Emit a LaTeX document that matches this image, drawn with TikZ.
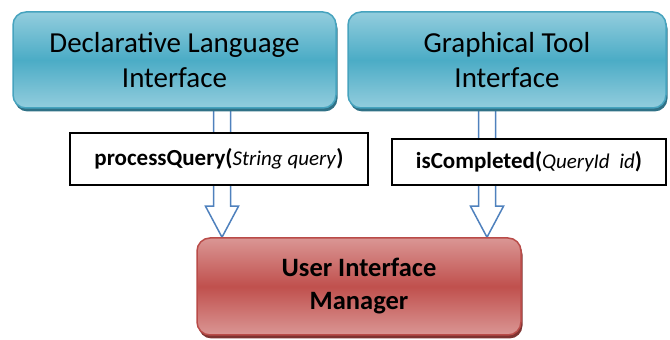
\documentclass[tikz,border=0pt]{standalone}
\usepackage{fontspec}
\setmainfont{Carlito}
\usetikzlibrary{shadows,backgrounds,calc}

\definecolor{blueTop}{HTML}{93CDDD}
\definecolor{blueMid}{HTML}{4BACC6}
\definecolor{blueLine}{HTML}{46A3BE}
\definecolor{blueShade}{HTML}{2F7186}
\definecolor{redTop}{HTML}{DA9694}
\definecolor{redMid}{HTML}{C0504D}
\definecolor{redLine}{HTML}{B94B48}
\definecolor{redShade}{HTML}{7E3331}
\definecolor{arrowLine}{HTML}{4F81BD}

\tikzset{
  ifacebox/.style={draw=blueLine, line width=1.5pt, rounded corners=13pt,
    top color=blueTop, bottom color=blueTop, middle color=blueMid,
    drop shadow={shadow xshift=1.5pt, shadow yshift=-3.5pt, fill=blueShade, opacity=1},
    minimum width=#1, minimum height=96pt, align=center,
    font=\fontsize{29}{35}\selectfont},
  mgrbox/.style={draw=redLine, line width=1.5pt, rounded corners=13pt,
    top color=redTop, bottom color=redTop, middle color=redMid,
    drop shadow={shadow xshift=1.5pt, shadow yshift=-3.5pt, fill=redShade, opacity=1},
    minimum width=324pt, minimum height=97pt, align=center,
    font=\fontsize{26.5}{33}\selectfont\bfseries},
  callbox/.style={draw=black, line width=1.2pt, fill=white, inner sep=0pt,
    minimum width=#1, font=\fontsize{23}{26}\selectfont},
  blockarrow/.style={draw=arrowLine, line width=1.5pt, fill=white, line join=miter},
}

% hollow block arrow: shaft from the bottom of #1 down to its tip on the top of #2, at the x of #3
\newcommand{\hollowarrow}[3]{%
  \path let \p1=(#1.south -| #3), \p2=(#2.north -| #3) in
    [blockarrow] (\x1-8.5pt,\y1) -- (\x1-8.5pt,\y2+31pt) -- (\x1-16.5pt,\y2+31pt)
    -- (\x1,\y2) -- (\x1+16.5pt,\y2+31pt) -- (\x1+8.5pt,\y2+31pt) -- (\x1+8.5pt,\y1);%
}
% italic argument list inside a call label
\newcommand{\argt}[1]{{\fontsize{21}{26}\selectfont\itshape #1}}

\begin{document}
\begin{tikzpicture}[x=1pt,y=1pt]
  \useasboundingbox (0,0) rectangle (670,340);

  \node[ifacebox=323pt] (decl) at (174.5,280) {Declarative Language\\Interface};
  \node[ifacebox=318pt] (gti) at (507,280) {Graphical Tool\\Interface};
  \node[mgrbox] (uim) at (359,53.5) {User Interface\\Manager};

  \node[callbox=298pt, minimum height=52pt] (pq) at (219,181)
    {\textbf{processQuery(}\argt{String query}\textbf{)}};
  \node[callbox=274pt, minimum height=46pt] (ic) at (529,178)
    {\textbf{isCompleted(}\argt{QueryId\ \ id}\textbf{)}};

  \coordinate (lanex1) at (222,0);
  \coordinate (lanex2) at (487,0);

  \begin{pgfonlayer}{background}
    \hollowarrow{decl}{uim}{lanex1}
    \hollowarrow{gti}{uim}{lanex2}
  \end{pgfonlayer}
\end{tikzpicture}
\end{document}
